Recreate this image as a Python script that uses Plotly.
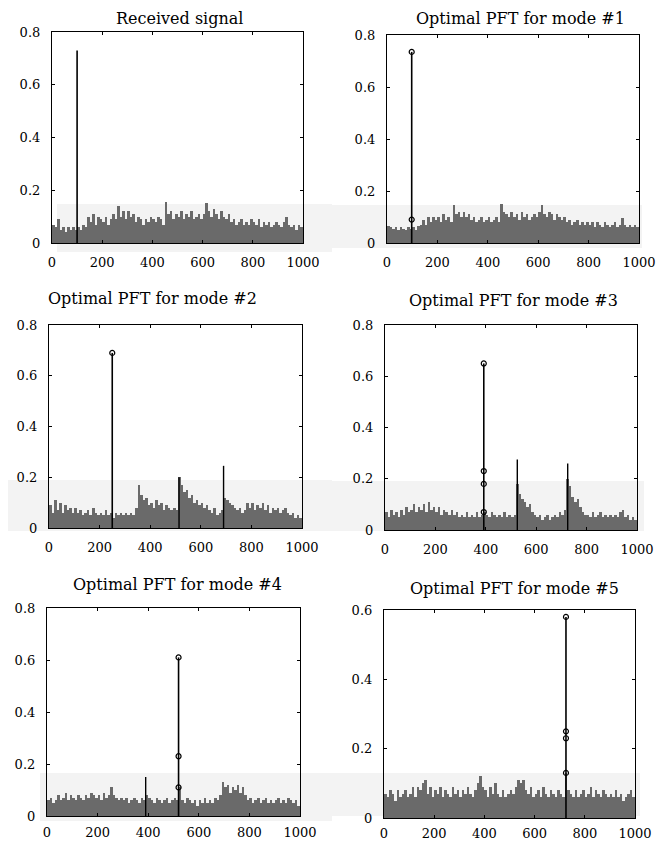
import plotly.graph_objects as go

# ---------------- data ----------------
titles = ["Received signal", "Optimal PFT for mode #1", "Optimal PFT for mode #2",
          "Optimal PFT for mode #3", "Optimal PFT for mode #4", "Optimal PFT for mode #5"]

# noise envelope, one value per 10-sample bin (x = 5, 15, ..., 995)
noise_received = [
    0.07, 0.06, 0.09, 0.05, 0.06, 0.04, 0.06, 0.05, 0.06, 0.05,
    0.06, 0.05, 0.07, 0.06, 0.10, 0.08, 0.11, 0.07, 0.10, 0.09,
    0.08, 0.10, 0.07, 0.09, 0.11, 0.09, 0.14, 0.10, 0.12, 0.09,
    0.12, 0.10, 0.11, 0.08, 0.10, 0.09, 0.07, 0.09, 0.08, 0.10,
    0.09, 0.08, 0.10, 0.09, 0.07, 0.155, 0.11, 0.12, 0.09, 0.11,
    0.10, 0.12, 0.09, 0.11, 0.10, 0.12, 0.09, 0.10, 0.11, 0.09,
    0.11, 0.15, 0.12, 0.10, 0.13, 0.11, 0.09, 0.12, 0.10, 0.09,
    0.11, 0.08, 0.09, 0.07, 0.08, 0.09, 0.07, 0.08, 0.07, 0.09,
    0.08, 0.07, 0.09, 0.06, 0.08, 0.07, 0.08, 0.06, 0.07, 0.08,
    0.07, 0.06, 0.08, 0.10, 0.07, 0.06, 0.07, 0.05, 0.07, 0.06,
]
noise_mode1 = [
    0.065, 0.06, 0.055, 0.06, 0.05, 0.06, 0.055, 0.05, 0.06, 0.055,
    0.06, 0.05, 0.065, 0.07, 0.09, 0.07, 0.10, 0.08, 0.10, 0.09,
    0.10, 0.08, 0.11, 0.09, 0.10, 0.08, 0.145, 0.11, 0.12, 0.10,
    0.12, 0.10, 0.11, 0.09, 0.10, 0.08, 0.09, 0.10, 0.08, 0.09,
    0.10, 0.08, 0.09, 0.10, 0.08, 0.15, 0.12, 0.11, 0.10, 0.12,
    0.10, 0.11, 0.09, 0.12, 0.10, 0.11, 0.09, 0.10, 0.11, 0.10,
    0.12, 0.145, 0.11, 0.10, 0.12, 0.11, 0.09, 0.11, 0.10, 0.09,
    0.10, 0.08, 0.09, 0.07, 0.08, 0.09, 0.07, 0.08, 0.07, 0.08,
    0.07, 0.08, 0.06, 0.08, 0.07, 0.06, 0.08, 0.07, 0.06, 0.07,
    0.08, 0.06, 0.07, 0.095, 0.07, 0.06, 0.07, 0.06, 0.07, 0.06,
]
noise_mode2 = [
    0.09, 0.06, 0.11, 0.07, 0.10, 0.06, 0.09, 0.07, 0.08, 0.06,
    0.08, 0.06, 0.07, 0.05, 0.06, 0.07, 0.05, 0.08, 0.06, 0.05,
    0.06, 0.05, 0.07, 0.05, 0.06, 0.04, 0.06, 0.05, 0.06, 0.05,
    0.06, 0.05, 0.06, 0.05, 0.08, 0.17, 0.13, 0.11, 0.12, 0.09,
    0.10, 0.08, 0.11, 0.09, 0.10, 0.07, 0.09, 0.08, 0.07, 0.08,
    0.07, 0.20, 0.17, 0.14, 0.15, 0.12, 0.13, 0.10, 0.11, 0.09,
    0.10, 0.08, 0.09, 0.07, 0.06, 0.08, 0.05, 0.06, 0.07, 0.12,
    0.11, 0.10, 0.09, 0.08, 0.07, 0.08, 0.06, 0.07, 0.10, 0.08,
    0.10, 0.07, 0.09, 0.08, 0.10, 0.07, 0.09, 0.06, 0.08, 0.07,
    0.08, 0.06, 0.07, 0.08, 0.06, 0.05, 0.06, 0.04, 0.05, 0.04,
]
noise_mode3 = [
    0.07, 0.05, 0.08, 0.06, 0.07, 0.05, 0.08, 0.06, 0.09, 0.07,
    0.08, 0.10, 0.07, 0.09, 0.08, 0.10, 0.07, 0.11, 0.08, 0.09,
    0.07, 0.09, 0.06, 0.08, 0.07, 0.06, 0.08, 0.06, 0.07, 0.05,
    0.06, 0.05, 0.07, 0.05, 0.06, 0.05, 0.07, 0.05, 0.06, 0.07,
    0.06, 0.05, 0.07, 0.06, 0.05, 0.06, 0.05, 0.07, 0.05, 0.06,
    0.05, 0.06, 0.18, 0.14, 0.12, 0.11, 0.09, 0.10, 0.07, 0.06,
    0.05, 0.06, 0.04, 0.05, 0.06, 0.04, 0.05, 0.06, 0.05, 0.07,
    0.06, 0.08, 0.20, 0.17, 0.13, 0.11, 0.12, 0.09, 0.07, 0.06,
    0.06, 0.05, 0.07, 0.05, 0.06, 0.07, 0.05, 0.06, 0.05, 0.06,
    0.05, 0.06, 0.05, 0.07, 0.08, 0.05, 0.06, 0.04, 0.05, 0.04,
]
noise_mode4 = [
    0.06, 0.07, 0.05, 0.06, 0.08, 0.06, 0.07, 0.09, 0.06, 0.08,
    0.07, 0.06, 0.08, 0.07, 0.06, 0.08, 0.07, 0.09, 0.08, 0.07,
    0.08, 0.06, 0.09, 0.07, 0.08, 0.11, 0.08, 0.07, 0.06, 0.07,
    0.06, 0.07, 0.05, 0.06, 0.07, 0.06, 0.05, 0.07, 0.06, 0.08,
    0.07, 0.06, 0.05, 0.07, 0.06, 0.05, 0.06, 0.07, 0.05, 0.06,
    0.07, 0.06, 0.11, 0.06, 0.05, 0.07, 0.06, 0.05, 0.06, 0.04,
    0.06, 0.05, 0.07, 0.05, 0.06, 0.05, 0.07, 0.06, 0.08, 0.13,
    0.11, 0.12, 0.09, 0.11, 0.10, 0.12, 0.09, 0.11, 0.08, 0.06,
    0.07, 0.05, 0.06, 0.07, 0.05, 0.06, 0.07, 0.05, 0.06, 0.05,
    0.06, 0.07, 0.05, 0.06, 0.05, 0.07, 0.06, 0.05, 0.06, 0.04,
]
noise_mode5 = [
    0.07, 0.06, 0.08, 0.07, 0.05, 0.08, 0.06, 0.07, 0.08, 0.06,
    0.07, 0.09, 0.06, 0.09, 0.08, 0.10, 0.11, 0.07, 0.09, 0.06,
    0.08, 0.07, 0.09, 0.06, 0.08, 0.07, 0.06, 0.09, 0.07, 0.08,
    0.06, 0.08, 0.07, 0.09, 0.07, 0.06, 0.08, 0.10, 0.12, 0.09,
    0.08, 0.06, 0.09, 0.07, 0.10, 0.07, 0.06, 0.08, 0.06, 0.07,
    0.08, 0.07, 0.09, 0.11, 0.10, 0.11, 0.08, 0.07, 0.09, 0.06,
    0.07, 0.08, 0.06, 0.09, 0.07, 0.06, 0.08, 0.07, 0.06, 0.08,
    0.07, 0.06, 0.13, 0.08, 0.07, 0.06, 0.08, 0.06, 0.07, 0.08,
    0.06, 0.07, 0.09, 0.06, 0.08, 0.07, 0.06, 0.08, 0.07, 0.06,
    0.07, 0.06, 0.08, 0.06, 0.07, 0.05, 0.06, 0.07, 0.08, 0.06,
]
noise = [noise_received, noise_mode1, noise_mode2, noise_mode3, noise_mode4, noise_mode5]
bin_x = [5 + 10 * i for i in range(100)]

# main peak of each panel
peak_x = [100, 98, 250, 392, 520, 725]
peak_y = [0.73, 0.735, 0.69, 0.65, 0.61, 0.58]
# circle markers drawn on the main peak (per panel)
peak_marks = [[], [0.735, 0.09], [0.69], [0.65, 0.23, 0.18, 0.07], [0.61, 0.23, 0.11], [0.58, 0.25, 0.23, 0.13]]
# secondary black spikes (x, height) per panel
spike_x = [[], [], [514, 690], [525, 725], [390], []]
spike_y = [[], [], [0.20, 0.245], [0.275, 0.26], [0.15], []]

y_max = [0.8, 0.8, 0.8, 0.8, 0.8, 0.6]
x_ticks = [0, 200, 400, 600, 800, 1000]

# ---------------- layout geometry (reference-window pixels) ----------------
OFF = 8                       # default body margin of the html page
W, H = 664 - 2 * OFF, 849 - 2 * OFF
frames = [  # left, right, top, bottom
    (52, 303, 32, 243), (387, 639, 35, 243),
    (49, 302, 325, 528), (385, 637, 325, 530),
    (47, 300, 608, 816), (384, 635, 610, 818),
]
x_standoff = [7, 7, 7, 7, 4, 3]
title_pos = [(179, 19), (520, 19), (152, 298), (513, 300), (177, 584), (514, 588)]
scan_bands = [(57, 332, 204, 252), (332, 642, 205, 248), (8, 332, 480, 531),
              (332, 644, 481, 531), (40, 332, 773, 821), (332, 640, 773, 816)]


def px(x):
    return (x - OFF) / W


def py(y):
    return 1 - (y - OFF) / H


font_family = "DejaVu Serif"
fig = go.Figure()
layout = dict(width=W, height=H, margin=dict(l=0, r=0, t=0, b=0),
              paper_bgcolor="white", plot_bgcolor="rgba(0,0,0,0)",
              showlegend=False, bargap=0, annotations=[], shapes=[],
              font=dict(family=font_family, size=13, color="black"))

for i in range(6):
    xa = "x" if i == 0 else f"x{i+1}"
    ya = "y" if i == 0 else f"y{i+1}"
    l, r, t, b = frames[i]
    fig.add_trace(go.Bar(x=bin_x, y=noise[i], width=10, marker=dict(color="#6a6a6a", line=dict(width=0)),
                         xaxis=xa, yaxis=ya))
    sx, sy = [], []
    for sxv, syv in zip(spike_x[i], spike_y[i]):
        sx += [sxv, sxv, None]
        sy += [0, syv, None]
    if sx:
        fig.add_trace(go.Scatter(x=sx, y=sy, mode="lines", line=dict(color="black", width=1.4),
                                 xaxis=xa, yaxis=ya))
    fig.add_trace(go.Scatter(x=[peak_x[i], peak_x[i]], y=[0, peak_y[i]], mode="lines",
                             line=dict(color="black", width=1.6), xaxis=xa, yaxis=ya))
    if peak_marks[i]:
        fig.add_trace(go.Scatter(x=[peak_x[i]] * len(peak_marks[i]), y=peak_marks[i], mode="markers",
                                 marker=dict(symbol="circle-open", size=5, color="black", line=dict(width=1.2)),
                                 xaxis=xa, yaxis=ya))
    yt = [round(0.2 * k, 1) for k in range(int(round(y_max[i] / 0.2)) + 1)]
    ax_common = dict(showline=True, linecolor="black", linewidth=1.2, mirror="ticks", ticks="inside",
                     ticklen=3, tickcolor="black", showgrid=False, zeroline=False, automargin=False,
                     tickfont=dict(family=font_family, size=13, color="black"))
    layout["xaxis" if i == 0 else f"xaxis{i+1}"] = dict(
        domain=[px(l), px(r)], range=[0, 1000], tickvals=x_ticks, ticktext=[str(v) for v in x_ticks],
        anchor=ya, ticklabelstandoff=x_standoff[i], **ax_common)
    layout["yaxis" if i == 0 else f"yaxis{i+1}"] = dict(
        domain=[py(b), py(t)], range=[0, y_max[i]], tickvals=yt,
        ticktext=["0" if v == 0 else f"{v:g}" for v in yt],
        anchor=xa, ticklabelstandoff=8, **ax_common)
    tx, ty = title_pos[i]
    layout["annotations"].append(dict(text=titles[i], x=px(tx), y=py(ty), xref="paper", yref="paper",
                                      xanchor="center", yanchor="middle", showarrow=False,
                                      font=dict(family=font_family, size=16, color="black")))
    bl, br, bt, bb = scan_bands[i]
    layout["shapes"].append(dict(type="rect", xref="paper", yref="paper", x0=px(bl), x1=min(px(br), 1),
                                 y0=max(py(bb), 0), y1=py(bt), fillcolor="#f3f3f3",
                                 line=dict(width=0), layer="below"))

fig.update_layout(**layout)
fig.write_html("out.html")
